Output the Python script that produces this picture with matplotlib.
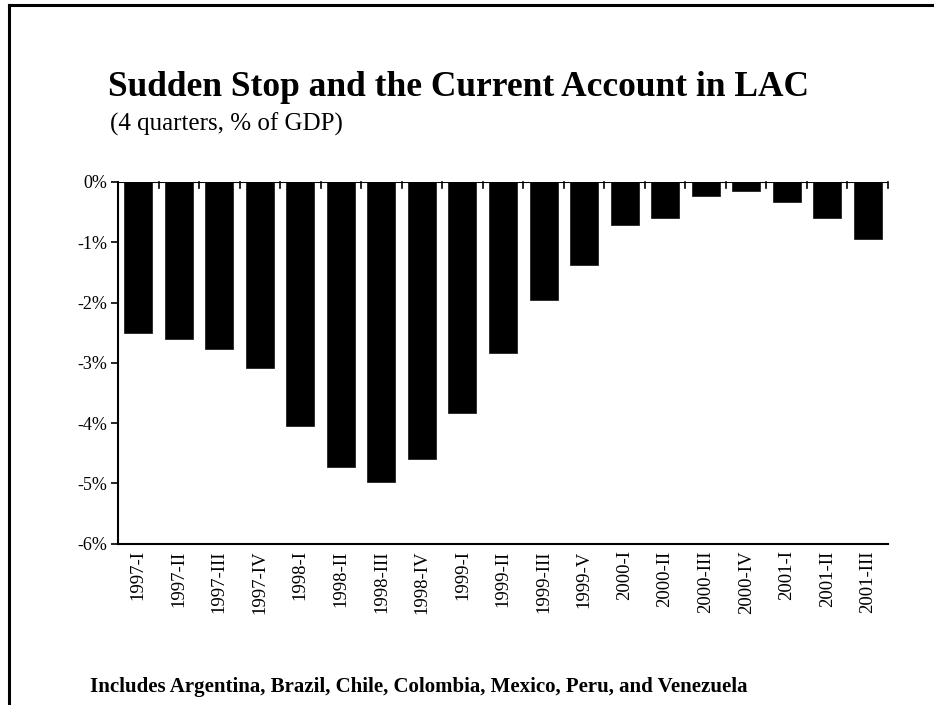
import matplotlib
matplotlib.use("Agg")
import matplotlib.pyplot as plt
from matplotlib.lines import Line2D
import numpy as np

categories = ["1997-I", "1997-II", "1997-III", "1997-IV", "1998-I", "1998-II",
              "1998-III", "1998-IV", "1999-I", "1999-II", "1999-III", "1999-V",
              "2000-I", "2000-II", "2000-III", "2000-IV", "2001-I", "2001-II",
              "2001-III"]
values = [-2.50, -2.61, -2.78, -3.09, -4.05, -4.73, -4.98, -4.59, -3.83,
          -2.84, -1.96, -1.37, -0.72, -0.59, -0.24, -0.15, -0.33, -0.59, -0.95]
yticks = [0, -1, -2, -3, -4, -5, -6]
ytick_labels = ["0%", "-1%", "-2%", "-3%", "-4%", "-5%", "-6%"]

plt.rcParams['font.family'] = ['Liberation Serif', 'DejaVu Serif']

W, H = 934, 705
fig = plt.figure(figsize=(W / 100, H / 100), dpi=100)

# frame lines (top and left)
fig.add_artist(Line2D([8.5 / W, 1.0], [1 - 4.5 / H, 1 - 4.5 / H], color='black', lw=2.2,
                      transform=fig.transFigure))
fig.add_artist(Line2D([8.5 / W, 8.5 / W], [0, 1 - 4.5 / H], color='black', lw=2.2,
                      transform=fig.transFigure))

ax = fig.add_axes([118 / W, 1 - 543.5 / H, (888 - 118) / W, (543.5 - 182) / H])
x = np.arange(len(categories))
ax.bar(x, values, width=0.69, color='black', edgecolor='#222222', linewidth=0.6, zorder=2)

ax.set_xlim(-0.5, len(categories) - 0.5)
ax.set_ylim(-6, 0)
ax.set_yticks(yticks)
ax.set_yticklabels(ytick_labels, fontsize=13)
ax.tick_params(axis='y', direction='out', length=5, width=1.2, pad=3)

ax.set_xticks(x)
ax.set_xticklabels(categories, rotation=90, fontsize=13.5, va='top', ha='center')
ax.tick_params(axis='x', length=0, pad=5)

for s in ['top', 'right']:
    ax.spines[s].set_visible(False)
ax.spines['left'].set_linewidth(1.5)
ax.spines['bottom'].set_linewidth(1.5)

# zero line with downward ticks at category boundaries
ax.axhline(0, color='black', lw=1.5, zorder=3)
for b in np.arange(0.5, len(categories), 1.0):
    ax.plot([b, b], [0, -0.1], color='black', lw=1.2, zorder=3, clip_on=False)

fig.text(108 / W, 1 - 88 / H, "Sudden Stop and the Current Account in LAC",
         fontsize=25.5, fontweight='bold', va='center', ha='left')
fig.text(110 / W, 1 - 124 / H, "(4 quarters, % of GDP)", fontsize=18,
         va='center', ha='left')
fig.text(90 / W, 1 - 687 / H,
         "Includes Argentina, Brazil, Chile, Colombia, Mexico, Peru, and Venezuela",
         fontsize=15, fontweight='bold', va='center', ha='left')

fig.savefig("out.png", dpi=100)
